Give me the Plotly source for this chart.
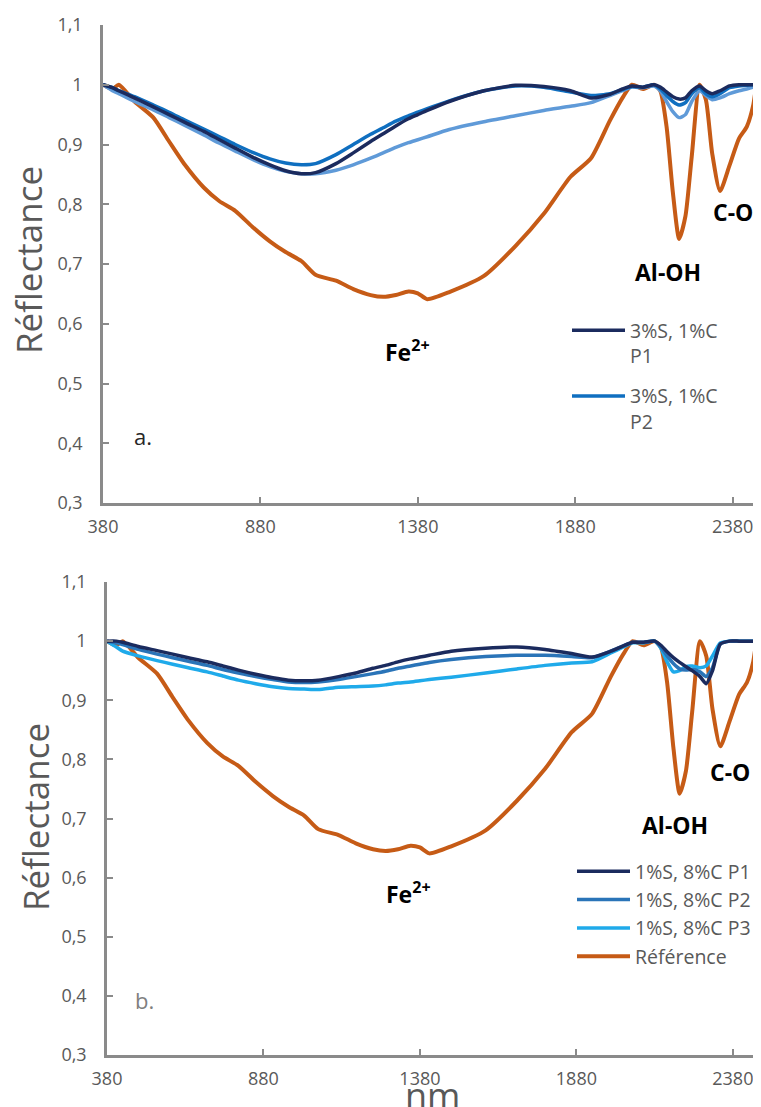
import plotly.graph_objects as go

# ---------------- data ----------------
wavelength_nm = [380, 410, 430, 480, 540, 590, 640, 700, 750, 800, 855, 910, 960, 1010, 1055,
                 1120, 1175, 1230, 1270, 1310, 1350, 1380, 1410, 1480, 1590, 1690, 1780, 1865,
                 1930, 1990, 2030, 2060, 2095, 2130, 2150, 2170, 2190, 2210, 2230, 2250, 2275,
                 2295, 2315, 2340, 2370, 2400, 2425, 2445, 2455]

reference = [1.0, 0.993, 1.0, 0.972, 0.945, 0.905, 0.866, 0.828, 0.805, 0.789, 0.762, 0.738, 0.72,
             0.705, 0.682, 0.672, 0.658, 0.648, 0.645, 0.648, 0.654, 0.651, 0.641, 0.653, 0.68,
             0.73, 0.784, 0.846, 0.877, 0.94, 0.978, 1.0, 0.993, 1.0, 0.99, 0.93, 0.82, 0.742,
             0.78, 0.88, 1.0, 0.975, 0.885, 0.822, 0.865, 0.91, 0.93, 0.965, 1.0]

a_s3c1_p1 = [1.0, 0.995, 0.99, 0.978, 0.963, 0.95, 0.937, 0.922, 0.908, 0.894, 0.879, 0.866, 0.856,
             0.851, 0.853, 0.868, 0.886, 0.905, 0.918, 0.931, 0.943, 0.95, 0.957, 0.972, 0.99,
             0.999, 0.997, 0.99, 0.978, 0.984, 0.993, 0.998, 0.996, 1.0, 0.996, 0.988, 0.98,
             0.976, 0.978, 0.99, 0.998, 0.99, 0.985, 0.99, 0.998, 1.0, 1.0, 1.0, 1.0]

a_s3c1_p2 = [1.0, 0.995, 0.99, 0.98, 0.966, 0.954, 0.941, 0.926, 0.913, 0.9, 0.887, 0.876, 0.869,
             0.866, 0.868, 0.883, 0.9, 0.917, 0.928, 0.939, 0.948, 0.954, 0.96, 0.973, 0.99,
             0.998, 0.996, 0.988, 0.982, 0.985, 0.992, 0.997, 0.996, 1.0, 0.993, 0.982, 0.972,
             0.966, 0.97, 0.985, 0.995, 0.985, 0.98, 0.985, 0.995, 0.998, 0.999, 1.0, 1.0]

a_s3c1_p3 = [1.0, 0.99, 0.985, 0.972, 0.958, 0.945, 0.932, 0.916, 0.902, 0.889, 0.875, 0.863, 0.855,
             0.851, 0.851, 0.857, 0.866, 0.877, 0.886, 0.895, 0.903, 0.908, 0.913, 0.925, 0.938,
             0.948, 0.957, 0.964, 0.97, 0.982, 0.99, 0.996, 0.995, 0.998, 0.99, 0.972, 0.955,
             0.945, 0.95, 0.972, 0.99, 0.982, 0.975, 0.978, 0.985, 0.99, 0.993, 0.996, 0.998]

b_s1c8_p1 = [1.0, 1.0, 0.998, 0.991, 0.984, 0.978, 0.972, 0.965, 0.958, 0.951, 0.944, 0.938, 0.934,
             0.933, 0.934, 0.94, 0.946, 0.954, 0.959, 0.965, 0.97, 0.973, 0.976, 0.983, 0.988,
             0.99, 0.986, 0.979, 0.973, 0.983, 0.992, 0.998, 0.998, 1.0, 0.993, 0.982, 0.972,
             0.964, 0.957, 0.95, 0.94, 0.928, 0.95, 0.995, 1.0, 1.0, 1.0, 1.0, 1.0]

b_s1c8_p2 = [1.0, 0.997, 0.994, 0.986, 0.978, 0.972, 0.966, 0.959, 0.952, 0.946, 0.94, 0.935, 0.931,
             0.93, 0.931, 0.935, 0.94, 0.945, 0.949, 0.954, 0.958, 0.961, 0.964, 0.969, 0.974,
             0.976, 0.976, 0.974, 0.972, 0.983, 0.992, 0.998, 0.998, 1.0, 0.99, 0.975, 0.962,
             0.953, 0.951, 0.952, 0.948, 0.94, 0.955, 0.995, 1.0, 1.0, 1.0, 1.0, 1.0]

b_s1c8_p3 = [1.0, 0.99, 0.983, 0.975, 0.967, 0.961, 0.955, 0.948, 0.941, 0.934, 0.928, 0.923, 0.92,
             0.919, 0.918, 0.922, 0.923, 0.924, 0.926, 0.929, 0.931, 0.933, 0.935, 0.939, 0.946,
             0.953, 0.959, 0.963, 0.965, 0.98, 0.99, 0.997, 0.997, 1.0, 0.988, 0.965, 0.948,
             0.95, 0.957, 0.958, 0.955, 0.958, 0.975, 0.997, 1.0, 1.0, 1.0, 1.0, 1.0]

x_tickvals = [380, 880, 1380, 1880, 2380]
y_tickvals = [0.3, 0.4, 0.5, 0.6, 0.7, 0.8, 0.9, 1.0, 1.1]
y_ticktext = ["0,3", "0,4", "0,5", "0,6", "0,7", "0,8", "0,9", "1", "1,1"]

# ---------------- style ----------------
FONT = "Open Sans"
NAVY = "#1b2b5e"
BLUE = "#0f6fc0"
LIGHT_A = "#5f9ad8"
BLUE_B = "#2a74b8"
CYAN_B = "#1faaea"
ORANGE = "#c65b16"
AXIS = "#8a8a8a"
TXT = "#595959"

# the page body adds an 8px margin: lay the figure out in page pixels minus 8
OFF = 8
W, H = 761 - OFF, 1107 - OFF


def px_x(p):
    return (p - OFF) / W


def px_y(p):
    return 1 - (p - OFF) / H


fig = go.Figure()

spl = dict(shape="spline", smoothing=0.6)
# panel a
fig.add_trace(go.Scatter(x=wavelength_nm, y=reference, mode="lines", showlegend=False,
                         line=dict(color=ORANGE, width=4, **spl), xaxis="x", yaxis="y"))
fig.add_trace(go.Scatter(x=wavelength_nm, y=a_s3c1_p3, mode="lines", showlegend=False,
                         line=dict(color=LIGHT_A, width=3.5, **spl), xaxis="x", yaxis="y"))
fig.add_trace(go.Scatter(x=wavelength_nm, y=a_s3c1_p2, mode="lines", name="3%S, 1%C<br>P2",
                         legend="legend", legendgroup="a2", legendrank=2,
                         line=dict(color=BLUE, width=3.5, **spl), xaxis="x", yaxis="y"))
fig.add_trace(go.Scatter(x=wavelength_nm, y=a_s3c1_p1, mode="lines", name="3%S, 1%C<br>P1",
                         legend="legend", legendgroup="a1", legendrank=1,
                         line=dict(color=NAVY, width=3.5, **spl), xaxis="x", yaxis="y"))

# panel b
fig.add_trace(go.Scatter(x=wavelength_nm, y=reference, mode="lines", name="Référence",
                         legend="legend2", legendrank=4,
                         line=dict(color=ORANGE, width=4, **spl), xaxis="x2", yaxis="y2"))
fig.add_trace(go.Scatter(x=wavelength_nm, y=b_s1c8_p3, mode="lines", name="1%S, 8%C P3",
                         legend="legend2", legendrank=3,
                         line=dict(color=CYAN_B, width=3.5, **spl), xaxis="x2", yaxis="y2"))
fig.add_trace(go.Scatter(x=wavelength_nm, y=b_s1c8_p2, mode="lines", name="1%S, 8%C P2",
                         legend="legend2", legendrank=2,
                         line=dict(color=BLUE_B, width=3.5, **spl), xaxis="x2", yaxis="y2"))
fig.add_trace(go.Scatter(x=wavelength_nm, y=b_s1c8_p1, mode="lines", name="1%S, 8%C P1",
                         legend="legend2", legendrank=1,
                         line=dict(color=NAVY, width=3.5, **spl), xaxis="x2", yaxis="y2"))

common_x = dict(range=[380, 2470], tickvals=x_tickvals, showline=True, linecolor=AXIS,
                linewidth=2.5, ticks="inside", ticklen=6, tickwidth=2, tickcolor=AXIS,
                showgrid=False, zeroline=False, automargin=False,
                tickfont=dict(family=FONT, size=18, color=TXT), ticklabelstandoff=6)
common_y = dict(range=[0.3, 1.1], tickvals=y_tickvals, ticktext=y_ticktext, showline=True,
                linecolor=AXIS, linewidth=2.5, ticks="inside", ticklen=6, tickwidth=2,
                tickcolor=AXIS, showgrid=False, zeroline=False, automargin=False,
                tickfont=dict(family=FONT, size=18, color=TXT), ticklabelstandoff=14)

fig.update_layout(
    width=W, height=H,
    margin=dict(l=0, r=0, t=0, b=0, autoexpand=False),
    paper_bgcolor="white", plot_bgcolor="white",
    font=dict(family=FONT, color=TXT),
    xaxis=dict(domain=[px_x(103), 1], anchor="y", **common_x),
    yaxis=dict(domain=[px_y(503), px_y(25)], anchor="x", **common_y),
    xaxis2=dict(domain=[px_x(107), 1], anchor="y2", **common_x),
    yaxis2=dict(domain=[px_y(1055), px_y(582)], anchor="x2", **common_y),
    legend=dict(x=px_x(567), xanchor="left", y=px_y(311), yanchor="top", valign="top",
                itemwidth=53, tracegroupgap=12, bgcolor="rgba(0,0,0,0)",
                font=dict(family=FONT, size=19.5, color=TXT)),
    legend2=dict(x=px_x(572), xanchor="left", y=px_y(852), yanchor="top",
                 itemwidth=53, tracegroupgap=1, bgcolor="rgba(0,0,0,0)",
                 font=dict(family=FONT, size=19.5, color=TXT)),
)

ann_bold = dict(family=FONT, size=23, color="black")
annotations = [
    dict(text="<b>Fe<sup>2+</sup></b>", x=1348, y=0.555, xref="x", yref="y", showarrow=False, font=ann_bold),
    dict(text="<b>Al-OH</b>", x=2174, y=0.687, xref="x", yref="y", showarrow=False, font=ann_bold),
    dict(text="<b>C-O</b>", x=2380, y=0.787, xref="x", yref="y", showarrow=False, font=ann_bold),
    dict(text="a.", x=507, y=0.412, xref="x", yref="y", showarrow=False,
         font=dict(family=FONT, size=22, color="#262626")),
    dict(text="<b>Fe<sup>2+</sup></b>", x=1345, y=0.574, xref="x2", yref="y2", showarrow=False, font=ann_bold),
    dict(text="<b>Al-OH</b>", x=2195, y=0.689, xref="x2", yref="y2", showarrow=False, font=ann_bold),
    dict(text="<b>C-O</b>", x=2370, y=0.779, xref="x2", yref="y2", showarrow=False, font=ann_bold),
    dict(text="b.", x=501, y=0.393, xref="x2", yref="y2", showarrow=False,
         font=dict(family=FONT, size=22, color="#7f7f7f")),
    dict(text="Réflectance", x=px_x(29), y=px_y(260), xref="paper", yref="paper", textangle=-90,
         xanchor="center", yanchor="middle",
         showarrow=False, font=dict(family=FONT, size=35, color=TXT)),
    dict(text="Réflectance", x=px_x(35), y=px_y(817), xref="paper", yref="paper", textangle=-90,
         xanchor="center", yanchor="middle",
         showarrow=False, font=dict(family=FONT, size=35, color=TXT)),
    dict(text="nm", x=px_x(432), y=px_y(1069), xref="paper", yref="paper", xanchor="center",
         yanchor="top", showarrow=False, font=dict(family=FONT, size=36, color=TXT)),
]
fig.update_layout(annotations=annotations)

fig.write_html("out.html")
